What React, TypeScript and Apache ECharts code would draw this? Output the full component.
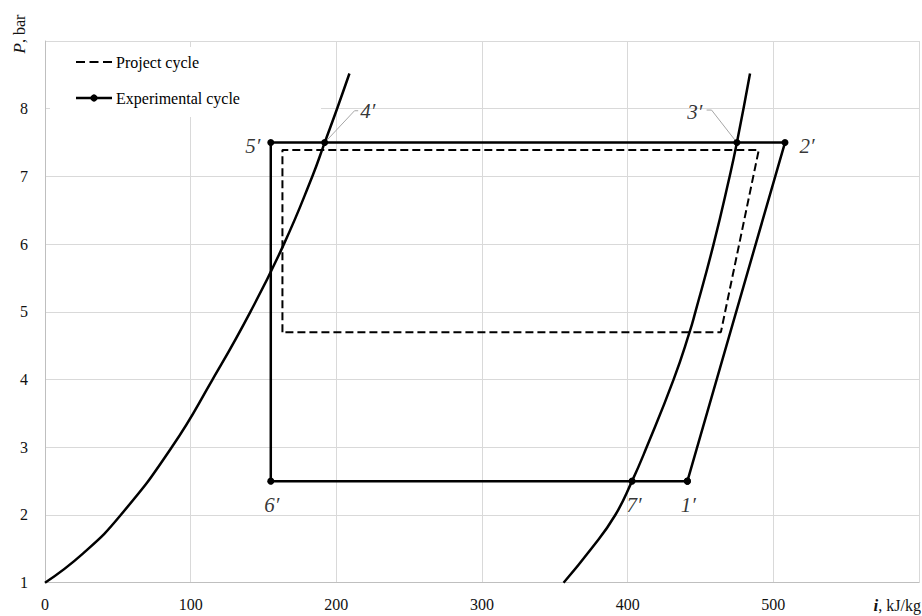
import React, { useEffect, useRef } from 'react';
import * as echarts from 'echarts';

// ---- data ----
const xTickLabels = ['0', '100', '200', '300', '400', '500'];
const yTickLabels = ['1', '2', '3', '4', '5', '6', '7', '8'];

// saturated liquid line (left curve)
const satLiquidI = [0, 26, 52, 87, 115, 141, 164, 183.5, 192, 200.5, 209];
const satLiquidP = [1, 1.43, 2, 3, 4, 5, 6, 7, 7.5, 8, 8.52];

// saturated vapour line (right curve)
const satVaporI = [356, 375, 391.5, 403, 413, 431.5, 442.5, 446.5, 459, 470, 475, 484];
const satVaporP = [1, 1.5, 2, 2.5, 3, 4, 4.7, 5, 6, 7, 7.5, 8.52];

// experimental cycle points 1'..7'
const expNames = ['1′', '2′', '3′', '4′', '5′', '6′', '7′'];
const expI = [441, 508, 475, 192, 155, 155, 403];
const expP = [2.5, 7.5, 7.5, 7.5, 7.5, 2.5, 2.5];

// project cycle
const projI = [163, 163, 490, 464, 163];
const projP = [4.7, 7.39, 7.39, 4.7, 4.7];

// leader lines for 4' and 3'
const leader4I = [192, 212.5, 215];
const leader4P = [7.5, 7.97, 7.97];
const leader3I = [475, 457.6, 454.2];
const leader3P = [7.5, 7.98, 7.98];

// ---- styles ----
const labelOffsets: Record<string, number[]> = {
  '1′': [1, 24],
  '2′': [22, 3],
  '3′': [-42, -31],
  '4′': [43, -32],
  '5′': [-18, 3],
  '6′': [1, 24],
  '7′': [2, 24],
};

const FONT = 'Liberation Serif';

const zip = (xs: number[], ys: number[]) => xs.map((x, i) => [x, ys[i]]);

export default function App() {
  const ref = useRef<HTMLDivElement>(null);

  useEffect(() => {
    if (!ref.current) return;
    const chart = echarts.init(ref.current, undefined, { renderer: 'svg' });

    const expData = zip(expI, expP);
    expData.push(expData[0]);

    const leaderData: any[] = [...zip(leader4I, leader4P), null, ...zip(leader3I, leader3P)];

    const labelData = expNames.map((n, i) => ({
      value: [expI[i], expP[i]],
      name: n,
      label: { offset: labelOffsets[n] },
    }));

    const option: any = {
      animation: false,
      backgroundColor: '#ffffff',
      textStyle: { fontFamily: FONT },
      grid: { left: 45, right: -7, top: 41, bottom: 33.3, containLabel: false },
      xAxis: {
        type: 'value',
        min: 0,
        max: 600,
        interval: 100,
        axisLine: { show: true, lineStyle: { color: '#bfbfbf', width: 1 } },
        axisTick: { show: false },
        splitLine: { show: true, lineStyle: { color: '#d9d9d9', width: 1 } },
        axisLabel: {
          margin: 14,
          fontFamily: FONT,
          fontSize: 16,
          color: '#111',
          formatter: (v: number) => (xTickLabels.includes(String(v)) ? String(v) : ''),
        },
      },
      yAxis: {
        type: 'value',
        min: 1,
        max: 9,
        interval: 1,
        axisLine: { show: true, lineStyle: { color: '#bfbfbf', width: 1 } },
        axisTick: { show: false },
        splitLine: { show: true, lineStyle: { color: '#d9d9d9', width: 1 } },
        axisLabel: {
          margin: 17,
          fontFamily: FONT,
          fontSize: 16,
          color: '#111',
          formatter: (v: number) => (yTickLabels.includes(String(v)) ? String(v) : ''),
        },
      },
      graphic: [
        // legend box (white, hides grid lines)
        { type: 'rect', z: 1, silent: true, shape: { x: 50, y: 47, width: 271, height: 70 }, style: { fill: '#ffffff' } },
        { type: 'line', z: 2, shape: { x1: 76, y1: 62, x2: 112, y2: 62 }, style: { stroke: '#000', lineWidth: 2, lineDash: [9, 4.5] } },
        { type: 'text', z: 2, x: 116, y: 62, style: { text: 'Project cycle', fontFamily: FONT, fontSize: 16, fill: '#000', verticalAlign: 'middle', align: 'left' } },
        { type: 'line', z: 2, shape: { x1: 76, y1: 98, x2: 112, y2: 98 }, style: { stroke: '#000', lineWidth: 2.5 } },
        { type: 'circle', z: 2, shape: { cx: 94, cy: 98, r: 3.6 }, style: { fill: '#000' } },
        { type: 'text', z: 2, x: 116, y: 98, style: { text: 'Experimental cycle', fontFamily: FONT, fontSize: 16, fill: '#000', verticalAlign: 'middle', align: 'left' } },
        // axis titles
        {
          type: 'text', z: 2, x: 19, y: 34, rotation: Math.PI / 2,
          style: {
            text: '{i|P}, bar', fill: '#111', align: 'center', verticalAlign: 'middle',
            fontFamily: FONT, fontSize: 16,
            rich: { i: { fontStyle: 'italic', fontSize: 17, fontFamily: FONT, fill: '#111' } },
          },
        },
        {
          type: 'text', z: 2, x: 921, y: 605,
          style: {
            text: '{i|i}, kJ/kg', fill: '#111', align: 'right', verticalAlign: 'middle',
            fontFamily: FONT, fontSize: 16,
            rich: { i: { fontStyle: 'italic', fontWeight: 'bold', fontSize: 17, fontFamily: FONT, fill: '#111' } },
          },
        },
      ],
      series: [
        {
          name: 'Saturated liquid',
          type: 'line',
          data: zip(satLiquidI, satLiquidP),
          smooth: 0.5,
          showSymbol: false,
          symbol: 'none',
          lineStyle: { color: '#000', width: 2.5 },
          silent: true,
          z: 3,
        },
        {
          name: 'Saturated vapour',
          type: 'line',
          data: zip(satVaporI, satVaporP),
          smooth: 0.5,
          showSymbol: false,
          symbol: 'none',
          lineStyle: { color: '#000', width: 2.5 },
          silent: true,
          z: 3,
        },
        {
          name: 'Project cycle',
          type: 'line',
          data: zip(projI, projP),
          symbol: 'none',
          lineStyle: { color: '#000', width: 2, type: [8, 4] },
          silent: true,
          z: 3,
        },
        {
          name: 'Leaders',
          type: 'line',
          data: leaderData,
          connectNulls: false,
          symbol: 'none',
          lineStyle: { color: '#a6a6a6', width: 1 },
          silent: true,
          z: 3,
        },
        {
          name: 'Experimental cycle',
          type: 'line',
          data: expData,
          symbol: 'circle',
          symbolSize: 7,
          showAllSymbol: true,
          itemStyle: { color: '#000' },
          lineStyle: { color: '#000', width: 2.5 },
          silent: true,
          z: 4,
        },
        {
          name: 'Point labels',
          type: 'scatter',
          data: labelData,
          symbol: 'circle',
          symbolSize: 1,
          itemStyle: { color: 'rgba(0,0,0,0)' },
          silent: true,
          z: 5,
          label: {
            show: true,
            position: 'inside',
            formatter: (p: any) => p.name,
            fontFamily: FONT,
            fontStyle: 'italic',
            fontSize: 21,
            color: '#000',
            align: 'center',
            verticalAlign: 'middle',
          },
        },
      ],
    };

    chart.setOption(option);
    return () => chart.dispose();
  }, []);

  return (
    <div
      ref={ref}
      style={{ position: 'fixed', left: 0, top: 0, width: 922, height: 616, background: '#fff' }}
    />
  );
}
